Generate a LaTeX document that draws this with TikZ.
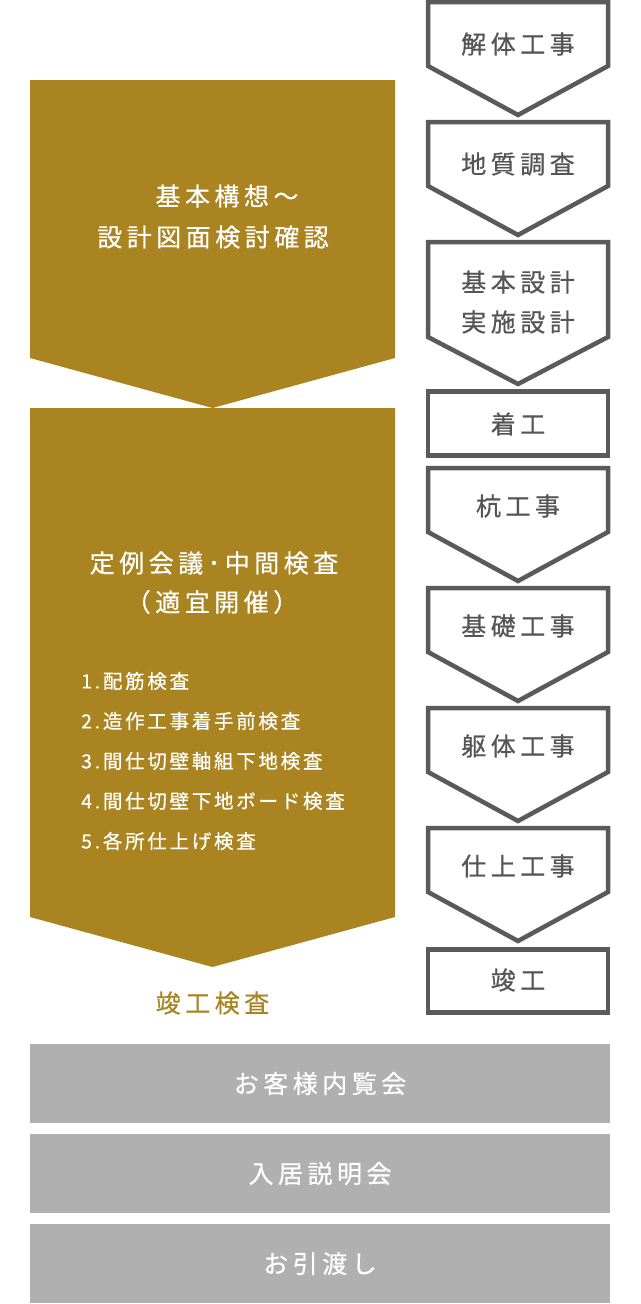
\documentclass[tikz,border=0pt]{standalone}
\usepackage{fontspec}
\setmainfont{Noto Sans CJK JP}
\newfontfamily\bigjp{Noto Sans CJK JP}[LetterSpace=18, FakeBold=0.6]
\newfontfamily\smalljp{Noto Sans CJK JP}[LetterSpace=14, FakeBold=0.6]
\definecolor{gold}{HTML}{AA8421}
\definecolor{frame}{HTML}{5A5A5A}
\definecolor{steptxt}{HTML}{555555}
\definecolor{barfill}{HTML}{B0B0B0}
\tikzset{
  frameline/.style={draw=frame, line width=4.5pt},
  steptext/.style={text=steptxt, font=\bigjp\fontsize{25}{30}\selectfont, inner sep=0pt},
  goldtext/.style={text=white, font=\bigjp\fontsize{25}{30}\selectfont, inner sep=0pt},
  listtext/.style={text=white, font=\smalljp\fontsize{19.5}{24}\selectfont, inner sep=0pt, anchor=west},
  barbox/.style={fill=barfill, text=white, font=\bigjp\fontsize{25}{30}\selectfont,
    minimum width=580pt, minimum height=79pt, inner sep=0pt}
}
\begin{document}
\begin{tikzpicture}[x=1pt,y=-1pt]
  \useasboundingbox (0,0) rectangle (640,1304);
  % left side
  \fill[gold] (30,80) -- (395,80) -- (395,358) -- (212.5,408) -- (30,358) -- cycle;
  \fill[gold] (30,408) -- (395,408) -- (395,917) -- (212.5,967) -- (30,917) -- cycle;
  \node[goldtext] (kousou) at (227,196) {基本構想～};
  \node[goldtext] (kakunin) at (213,237) {設計図面検討確認};
  \node[goldtext] (teirei) at (214,563) {定例会議･中間検査};
  \node[goldtext] (tekigi) at (212,602) {（適宜開催）};
  \foreach \i/\s in {1/配筋検査, 2/造作工事着手前検査, 3/間仕切壁軸組下地検査,
                     4/間仕切壁下地ボード検査, 5/各所仕上げ検査}
    \node[listtext] (item\i) at (81,641+40*\i) {\i.\s};
  \node[goldtext, text=gold] (shunkoukensa) at (212.5,1003) {竣工検査};
  % right side
  \foreach \t in {2,122,468,588,708,828}
    \draw[frameline] (428,\t) -- (608,\t) -- (608,\t+64) -- (518,\t+113) -- (428,\t+64) -- cycle;
  \draw[frameline] (428,242) -- (608,242) -- (608,337) -- (518,384) -- (428,337) -- cycle;
  \draw[frameline] (428,391.5) rectangle (608,455.5);
  \draw[frameline] (428,949.5) rectangle (608,1012.5);
  \node[steptext] (kaitai) at (518,44) {解体工事};
  \node[steptext] (chishitsu) at (518,164) {地質調査};
  \node[steptext] (kihon) at (518,282) {基本設計};
  \node[steptext] (jisshi) at (518,322) {実施設計};
  \node[steptext] (chakkou) at (518,424) {着工};
  \node[steptext] (kui) at (518,506) {杭工事};
  \node[steptext] (kiso) at (518,626) {基礎工事};
  \node[steptext] (kutai) at (518,746) {躯体工事};
  \node[steptext] (shiage) at (518,866) {仕上工事};
  \node[steptext] (shunkou) at (518,980) {竣工};
  % bottom
  \node[barbox] (naiken) at (320,1083.5) {お客様内覧会};
  \node[barbox] (setsumei) at (320,1173.5) {入居説明会};
  \node[barbox] (hikiwatashi) at (320,1263.5) {お引渡し};
\end{tikzpicture}
\end{document}
